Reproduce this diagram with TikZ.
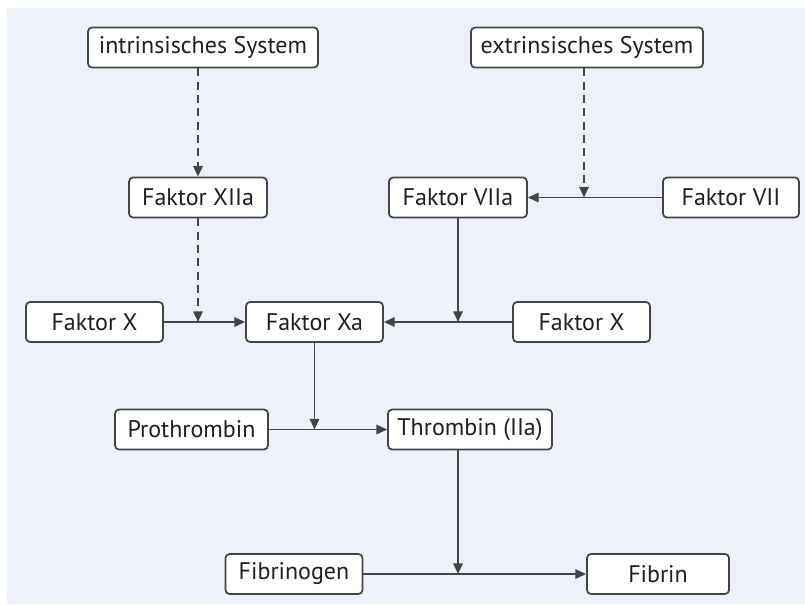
\documentclass[tikz,border=0pt]{standalone}
\usepackage{fontspec}
\setmainfont{PT Sans}
\usetikzlibrary{arrows.meta}
\definecolor{bg}{HTML}{EDF1F9}
\definecolor{ln}{HTML}{444444}
\begin{document}
\begin{tikzpicture}[x=0.75pt,y=-0.75pt,
  box/.style={draw=ln,line width=1.3pt,fill=white,rounded corners=3pt,
    minimum height=40*0.75pt,inner sep=0pt,font=\fontsize{18}{21}\selectfont,text=black!88},
  conn/.style={draw=ln,line width=1.4pt,-{Triangle[length=8pt,width=7pt]}},
  dconn/.style={conn,dash pattern=on 6pt off 4pt}]
\useasboundingbox[fill=white] (0,0) rectangle (805,604);
\fill[bg] (7,8) rectangle (805,604);
\node[box,minimum width=230*0.75pt] (intr) at (203,47.5) {intrinsisches System};
\node[box,minimum width=232*0.75pt] (extr) at (587,47.5) {extrinsisches System};
\node[box,minimum width=138*0.75pt] (f12a) at (198,197.5) {Faktor XIIa};
\node[box,minimum width=138*0.75pt] (f7a) at (458,197.5) {Faktor VIIa};
\node[box,minimum width=136*0.75pt] (f7) at (731,197.5) {Faktor VII};
\node[box,minimum width=137*0.75pt] (fx1) at (94.5,322) {Faktor X};
\node[box,minimum width=137*0.75pt] (fxa) at (314.5,322) {Faktor Xa};
\node[box,minimum width=137*0.75pt] (fx2) at (581.5,322) {Faktor X};
\node[box,minimum width=153*0.75pt] (proth) at (191.5,429.5) {Prothrombin};
\node[box,minimum width=164*0.75pt] (thromb) at (470,429.5) {Thrombin (IIa)};
\node[box,minimum width=137*0.75pt] (fgen) at (294,574) {Fibrinogen};
\node[box,minimum width=142*0.75pt] (fin) at (658,574) {Fibrin};
\coordinate (j1) at (f12a.center |- fx1.center);
\coordinate (j2) at (584,197.5);
\coordinate (j3) at (f7a.center |- fxa.center);
\coordinate (j4) at (fxa.center |- proth.center);
\coordinate (j5) at (458,574);
\draw[dconn] (f12a.north |- intr.south) -- (f12a.north);
\draw[dconn] (f12a.south) -- (j1);
\draw[conn] (fx1.east) -- (fxa.west);
\draw[dconn] (j2 |- extr.south) -- (j2);
\draw[conn] (f7.west) -- (f7a.east);
\draw[conn] (f7a.south) -- (j3);
\draw[conn] (fx2.west) -- (fxa.east);
\draw[conn] (fxa.south) -- (j4);
\draw[conn] (proth.east) -- (thromb.west);
\draw[conn] (j5 |- thromb.south) -- (j5);
\draw[conn] (fgen.east) -- (fin.west);
\end{tikzpicture}
\end{document}
